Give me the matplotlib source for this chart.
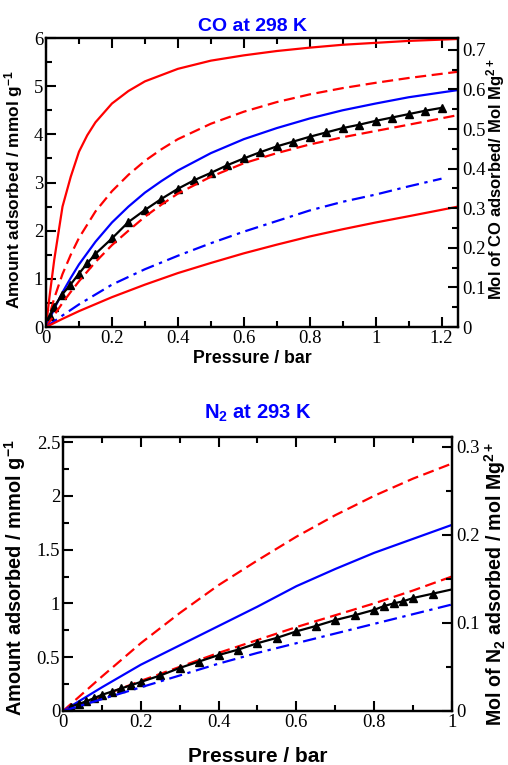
import matplotlib
matplotlib.use("Agg")
import matplotlib.pyplot as plt
from matplotlib.ticker import MultipleLocator, FuncFormatter

SERIF = "Liberation Serif"
SANS = "Liberation Sans"
plt.rcParams["font.family"] = [SERIF, "DejaVu Serif"]
plt.rcParams["mathtext.fontset"] = "custom"
plt.rcParams["mathtext.rm"] = "Liberation Sans:bold"
plt.rcParams["mathtext.it"] = "Liberation Sans:bold"
plt.rcParams["mathtext.bf"] = "Liberation Sans:bold"
plt.rcParams["mathtext.default"] = "rm"

# ---------------- CO at 298 K ----------------
co_x_red_top = [0, 0.01, 0.025, 0.05, 0.075, 0.1, 0.125, 0.15, 0.2, 0.25, 0.3, 0.4, 0.5, 0.6, 0.7, 0.8, 0.9, 1.0, 1.1, 1.25]
co_y_red_top = [0, 0.6, 1.4, 2.5, 3.12, 3.64, 3.98, 4.25, 4.64, 4.9, 5.1, 5.36, 5.53, 5.64, 5.73, 5.8, 5.86, 5.9, 5.94, 5.98]

co_x_curve = [0, 0.025, 0.05, 0.075, 0.1, 0.15, 0.2, 0.25, 0.3, 0.35, 0.4, 0.5, 0.6, 0.7, 0.8, 0.9, 1.0, 1.1, 1.25]
co_y_red_dash_top = [0, 0.6, 1.1, 1.5, 1.85, 2.4, 2.82, 3.16, 3.45, 3.69, 3.9, 4.22, 4.47, 4.67, 4.83, 4.96, 5.07, 5.17, 5.3]
co_y_blue = [0, 0.38, 0.72, 1.02, 1.3, 1.77, 2.17, 2.5, 2.79, 3.03, 3.25, 3.61, 3.9, 4.13, 4.33, 4.5, 4.64, 4.77, 4.92]
co_y_red_dash_low = [0, 0.25, 0.5, 0.73, 0.95, 1.35, 1.7, 2.0, 2.29, 2.54, 2.77, 3.12, 3.4, 3.61, 3.79, 3.94, 4.07, 4.2, 4.4]

co_x_red_low = [0, 0.05, 0.1, 0.2, 0.3, 0.4, 0.5, 0.6, 0.7, 0.8, 0.9, 1.0, 1.1, 1.25]
co_y_red_low = [0, 0.17, 0.33, 0.62, 0.88, 1.12, 1.33, 1.53, 1.71, 1.88, 2.03, 2.17, 2.3, 2.5]

co_x_dashdot = [0, 0.05, 0.1, 0.2, 0.3, 0.4, 0.5, 0.6, 0.7, 0.8, 0.9, 1.0, 1.1, 1.2]
co_y_dashdot = [0, 0.24, 0.47, 0.88, 1.2, 1.48, 1.74, 1.98, 2.2, 2.42, 2.6, 2.75, 2.92, 3.08]

co_x_exp = [0.012, 0.025, 0.047, 0.073, 0.1, 0.125, 0.15, 0.2, 0.25, 0.3, 0.35, 0.4, 0.45, 0.5, 0.55, 0.6,
            0.65, 0.7, 0.75, 0.8, 0.85, 0.9, 0.95, 1.0, 1.05, 1.1, 1.15, 1.2]
co_y_exp = [0.22, 0.42, 0.66, 0.87, 1.11, 1.32, 1.52, 1.84, 2.18, 2.43, 2.66, 2.87, 3.05, 3.2, 3.36, 3.5,
            3.63, 3.75, 3.85, 3.95, 4.04, 4.13, 4.2, 4.28, 4.35, 4.42, 4.49, 4.55]

# ---------------- N2 at 293 K ----------------
n2_x_curve = [0, 0.1, 0.2, 0.3, 0.4, 0.5, 0.6, 0.7, 0.8, 0.9, 1.0]
n2_y_red_dash_top = [0, 0.32, 0.63, 0.91, 1.17, 1.4, 1.62, 1.82, 2.0, 2.16, 2.3]
n2_y_blue = [0, 0.22, 0.43, 0.61, 0.79, 0.97, 1.16, 1.32, 1.47, 1.6, 1.73]
n2_y_red_dash_low = [0, 0.14, 0.28, 0.41, 0.54, 0.66, 0.78, 0.89, 1.0, 1.12, 1.25]
n2_y_dashdot = [0, 0.11, 0.22, 0.33, 0.44, 0.54, 0.63, 0.72, 0.81, 0.9, 0.99]

n2_x_exp = [0.02, 0.04, 0.06, 0.08, 0.1, 0.125, 0.15, 0.175, 0.2, 0.25, 0.3, 0.35, 0.4, 0.45, 0.5, 0.55,
            0.6, 0.65, 0.7, 0.75, 0.8, 0.825, 0.85, 0.875, 0.9, 0.95]
n2_y_exp = [0.04, 0.065, 0.09, 0.12, 0.15, 0.18, 0.21, 0.24, 0.27, 0.33, 0.4, 0.46, 0.52, 0.57, 0.63, 0.68,
            0.74, 0.79, 0.845, 0.89, 0.94, 0.975, 1.0, 1.02, 1.05, 1.09]
n2_x_end = [1.0]
n2_y_end = [1.13]

RED = "#ff0000"
BLUE = "#0000ff"
LW = 1.6
DASH = (0, (5, 2.5))
DASHDOT = (0, (6, 2.5, 1.5, 2.5))

fig = plt.figure(figsize=(5.08, 7.65), dpi=100)


def fmt(v, pos):
    return f"{round(v, 6):g}"


def style_axes(ax, ax2, xmaj, xmin, ymaj, ymin, y2maj, y2min, fs):
    for a in (ax, ax2):
        for sp in a.spines.values():
            sp.set_linewidth(1.6)
    ax.xaxis.set_major_locator(MultipleLocator(xmaj))
    ax.xaxis.set_minor_locator(MultipleLocator(xmin))
    ax.yaxis.set_major_locator(MultipleLocator(ymaj))
    ax.yaxis.set_minor_locator(MultipleLocator(ymin))
    ax.xaxis.set_major_formatter(FuncFormatter(fmt))
    ax.yaxis.set_major_formatter(FuncFormatter(fmt))
    ax.tick_params(which="both", direction="in", top=True, right=False, width=1.5)
    ax.tick_params(which="major", length=7, labelsize=fs, pad=2)
    ax.tick_params(which="minor", length=4)
    ax2.yaxis.set_major_locator(MultipleLocator(y2maj))
    ax2.yaxis.set_minor_locator(MultipleLocator(y2min))
    ax2.yaxis.set_major_formatter(FuncFormatter(fmt))
    ax2.tick_params(which="both", direction="in", width=1.5)
    ax2.tick_params(which="major", length=7, labelsize=fs, pad=3)
    ax2.tick_params(which="minor", length=4)


# ---- top panel ----
ax = fig.add_axes([0.0906, 0.5725, 0.811, 0.3778])
ax.plot(co_x_red_top, co_y_red_top, color=RED, lw=LW)
ax.plot(co_x_curve, co_y_red_dash_top, color=RED, lw=LW, linestyle=DASH)
ax.plot(co_x_curve, co_y_blue, color=BLUE, lw=LW)
ax.plot(co_x_exp, co_y_exp, color="black", lw=LW, marker="^", markersize=6)
ax.plot(co_x_curve, co_y_red_dash_low, color=RED, lw=LW, linestyle=DASH)
ax.plot(co_x_dashdot, co_y_dashdot, color=BLUE, lw=LW, linestyle=DASHDOT)
ax.plot(co_x_red_low, co_y_red_low, color=RED, lw=LW)
ax.set_xlim(0, 1.25)
ax.set_ylim(0, 6)
ax2 = ax.twinx()
ax2.set_ylim(0, 0.73)
style_axes(ax, ax2, 0.2, 0.1, 1, 0.5, 0.1, 0.05, 13.5)
ax.set_title("CO at 298 K", color=BLUE, fontweight="bold", fontsize=14, family=SANS, pad=5)
ax.set_xlabel("Pressure / bar", fontweight="bold", fontsize=12.8, family=SANS, labelpad=2)
ax.set_ylabel("Amount adsorbed / mmol g$^{-1}$", fontweight="bold", fontsize=12.4, family=SANS)
ax.yaxis.set_label_coords(-0.052, 0.474)
ax2.set_ylabel("Mol of CO adsorbed/ Mol Mg$^{2+}$", fontweight="bold", fontsize=12, family=SANS)
ax2.yaxis.set_label_coords(1.064, 0.512)

# ---- bottom panel ----
bx = fig.add_axes([0.124, 0.0706, 0.7657, 0.3582])
bx.plot(n2_x_curve, n2_y_red_dash_top, color=RED, lw=LW, linestyle=DASH)
bx.plot(n2_x_curve, n2_y_blue, color=BLUE, lw=LW)
bx.plot(n2_x_curve, n2_y_red_dash_low, color=RED, lw=LW, linestyle=DASH)
bx.plot(n2_x_exp + n2_x_end, n2_y_exp + n2_y_end, color="black", lw=LW)
bx.plot(n2_x_exp, n2_y_exp, color="black", lw=0, marker="^", markersize=6)
bx.plot(n2_x_curve, n2_y_dashdot, color=BLUE, lw=LW, linestyle=DASHDOT)
bx.set_xlim(0, 1.0)
bx.set_ylim(0, 2.547)
bx2 = bx.twinx()
bx2.set_ylim(0, 0.311)
style_axes(bx, bx2, 0.2, 0.1, 0.5, 0.25, 0.1, 0.05, 13.5)
bx.set_title("N$_2$ at 293 K", color=BLUE, fontweight="bold", fontsize=14.5, family=SANS, pad=13)
bx.set_xlabel("Pressure / bar", fontweight="bold", fontsize=15, family=SANS, labelpad=12)
bx.set_ylabel("Amount adsorbed / mmol g$^{-1}$", fontweight="bold", fontsize=14.4, family=SANS)
bx.yaxis.set_label_coords(-0.09, 0.485)
bx2.set_ylabel("Mol of N$_2$ adsorbed / mol Mg$^{2+}$", fontweight="bold", fontsize=14.1, family=SANS)
bx2.yaxis.set_label_coords(1.078, 0.465)

fig.savefig("out.png", dpi=100)
